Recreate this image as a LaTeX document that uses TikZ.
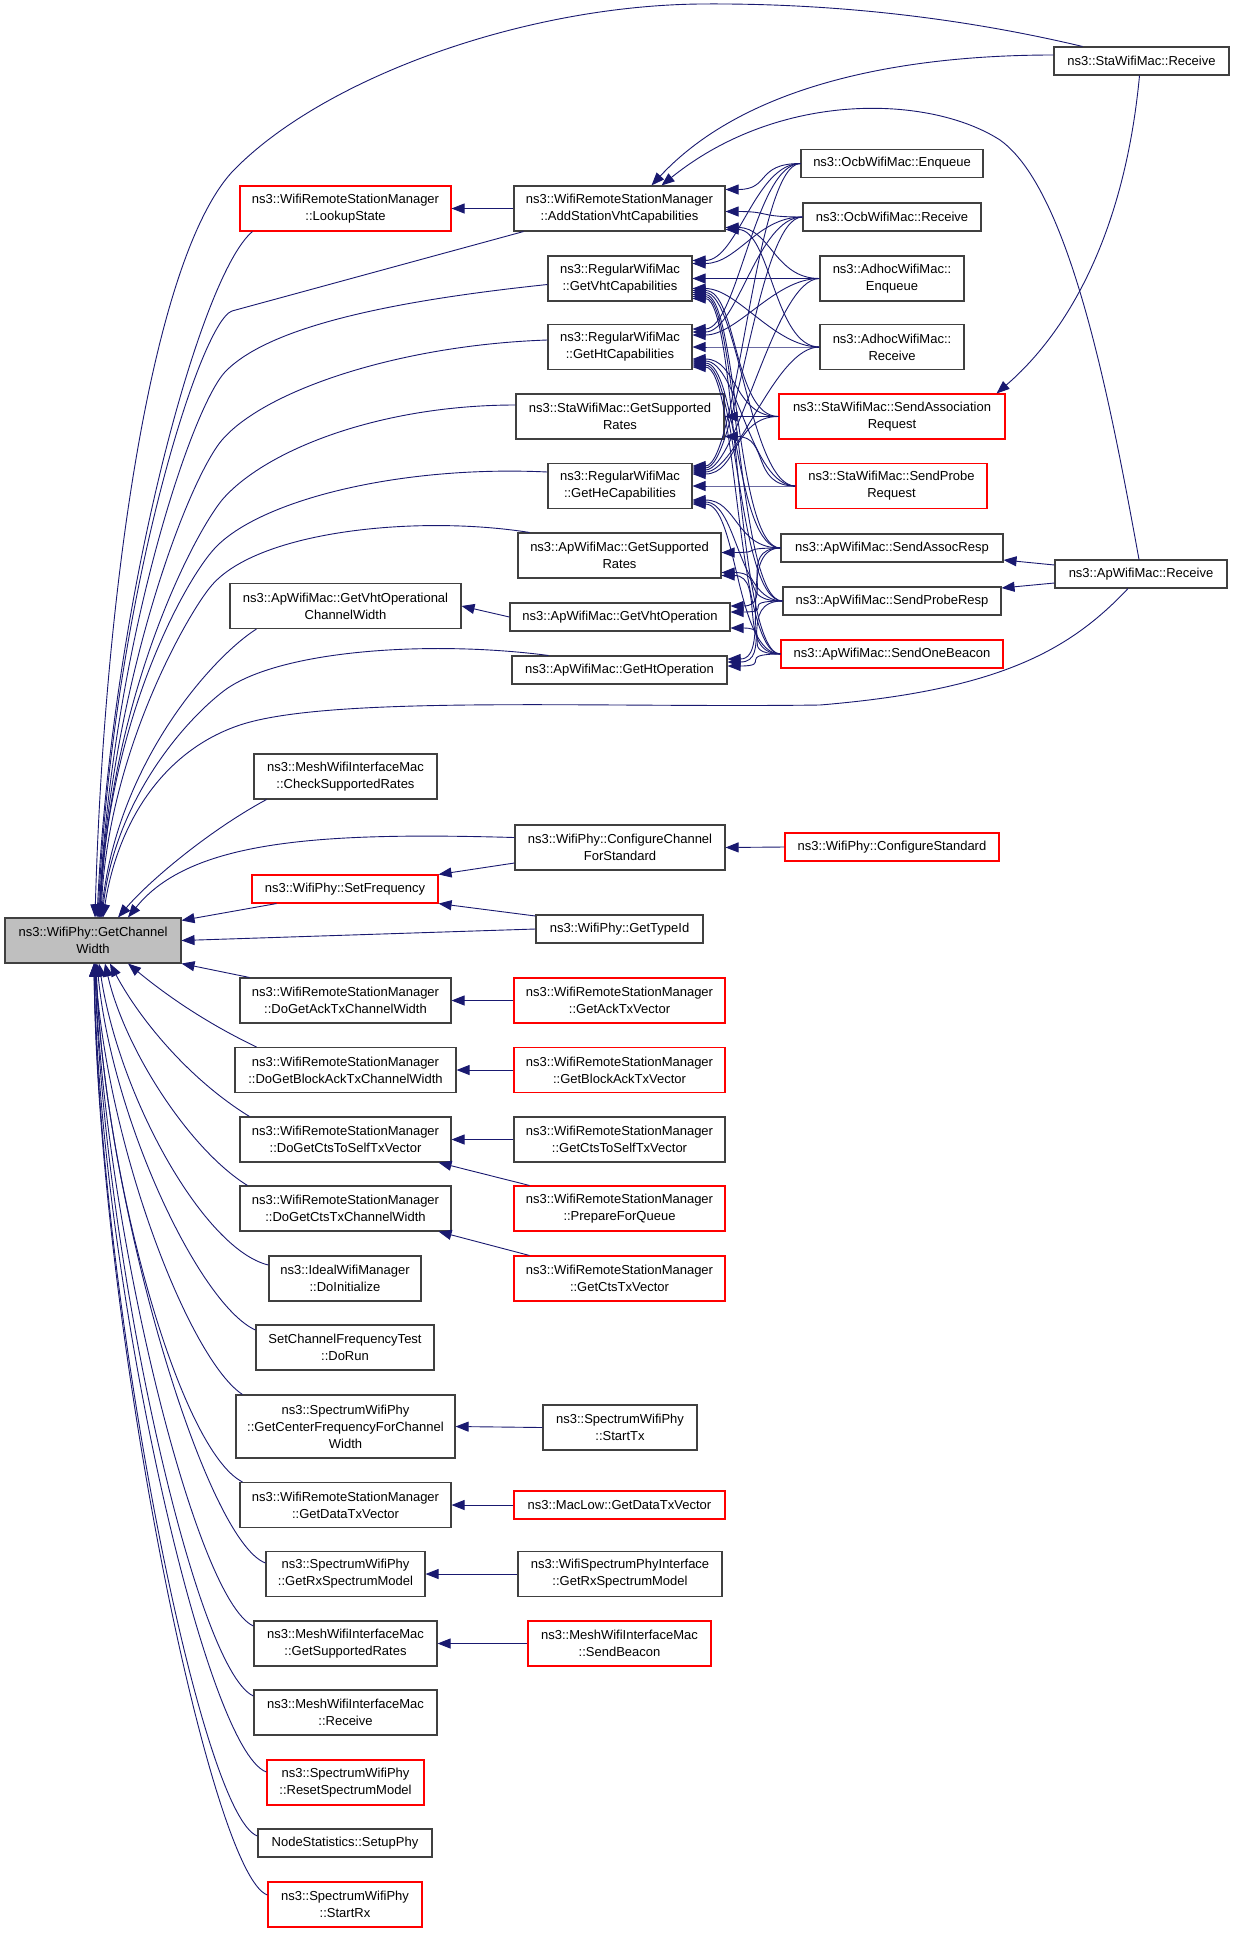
\documentclass[tikz,border=0pt]{standalone}
\usepackage{fontspec}
\setmainfont{Liberation Sans}
\usetikzlibrary{arrows.meta}
\definecolor{callcolor}{RGB}{25, 25, 112}
\definecolor{boxgray}{RGB}{191, 191, 191}
\definecolor{boxline}{RGB}{64, 64, 64}

\begin{document}
\begin{tikzpicture}[x=1pt, y=1pt,
  fn/.style={draw=boxline, line width=1.1pt, fill=white, inner sep=2pt, align=center, font=\fontsize{13}{17}\selectfont},
  fnred/.style={fn, draw=red},
  fncur/.style={fn, fill=boxgray},
  one/.style={minimum height=28pt},
  two/.style={minimum height=45pt},
  call/.style={draw=callcolor, line width=0.9pt, -{Triangle[length=13pt, width=10pt]}}]
\fill[white] (0,0) rectangle (1235,-1933);

% Called function
\node[fncur, two, minimum width=176pt] (gcw) at (93,-940.5) {ns3::WifiPhy::GetChannel\\Width};

% Callers, upper part
\node[fnred, two, minimum width=211pt] (lookup) at (345.5,-208.5) {ns3::WifiRemoteStationManager\\::LookupState};
\node[fn, two, minimum width=211pt] (addvht) at (619.5,-208.5) {ns3::WifiRemoteStationManager\\::AddStationVhtCapabilities};
\node[fn, two, minimum width=144pt] (getvht) at (620,-278.5) {ns3::RegularWifiMac\\::GetVhtCapabilities};
\node[fn, two, minimum width=144pt] (getht) at (620,-347) {ns3::RegularWifiMac\\::GetHtCapabilities};
\node[fn, two, minimum width=208pt] (starates) at (620,-416.5) {ns3::StaWifiMac::GetSupported\\Rates};
\node[fn, two, minimum width=144pt] (gethe) at (620,-486) {ns3::RegularWifiMac\\::GetHeCapabilities};
\node[fn, two, minimum width=203pt] (aprates) at (619.5,-555.5) {ns3::ApWifiMac::GetSupported\\Rates};
\node[fn, one, minimum width=220pt] (vhtop) at (620,-617) {ns3::ApWifiMac::GetVhtOperation};
\node[fn, one, minimum width=215pt] (htop) at (619.5,-670) {ns3::ApWifiMac::GetHtOperation};
\node[fn, two, minimum width=231pt] (vhtocw) at (345.5,-606) {ns3::ApWifiMac::GetVhtOperational\\ChannelWidth};
\node[fn, two, minimum width=183pt] (checkrates) at (345.5,-776.5) {ns3::MeshWifiInterfaceMac\\::CheckSupportedRates};
\node[fn, two, minimum width=210pt] (cfgchan) at (620,-847.5) {ns3::WifiPhy::ConfigureChannel\\ForStandard};
\node[fnred, one, minimum width=186pt] (setfreq) at (345,-889) {ns3::WifiPhy::SetFrequency};
\node[fn, one, minimum width=167pt] (typeid) at (619.5,-929) {ns3::WifiPhy::GetTypeId};
\node[fnred, one, minimum width=214pt] (cfgstd) at (892,-847) {ns3::WifiPhy::ConfigureStandard};

% Mac callers on the right
\node[fn, one, minimum width=175pt] (starecv) at (1141.5,-61) {ns3::StaWifiMac::Receive};
\node[fn, one, minimum width=182pt] (ocbenq) at (892,-163.5) {ns3::OcbWifiMac::Enqueue};
\node[fn, one, minimum width=178pt] (ocbrecv) at (892,-217) {ns3::OcbWifiMac::Receive};
\node[fn, two, minimum width=144pt] (adhocenq) at (892,-278.5) {ns3::AdhocWifiMac::\\Enqueue};
\node[fn, two, minimum width=144pt] (adhocrecv) at (892,-347) {ns3::AdhocWifiMac::\\Receive};
\node[fnred, two, minimum width=226pt] (assocreq) at (892,-416.5) {ns3::StaWifiMac::SendAssociation\\Request};
\node[fnred, two, minimum width=191pt] (probereq) at (891.5,-486) {ns3::StaWifiMac::SendProbe\\Request};
\node[fn, one, minimum width=222pt] (assocresp) at (892,-548) {ns3::ApWifiMac::SendAssocResp};
\node[fn, one, minimum width=218pt] (proberesp) at (892,-601) {ns3::ApWifiMac::SendProbeResp};
\node[fnred, one, minimum width=222pt] (beacon) at (892,-654) {ns3::ApWifiMac::SendOneBeacon};
\node[fn, one, minimum width=172pt] (aprecv) at (1141,-574) {ns3::ApWifiMac::Receive};

% Callers, lower part
\node[fn, two, minimum width=211pt] (doack) at (345.5,-1000.5) {ns3::WifiRemoteStationManager\\::DoGetAckTxChannelWidth};
\node[fn, two, minimum width=221pt] (doblockack) at (345.5,-1070) {ns3::WifiRemoteStationManager\\::DoGetBlockAckTxChannelWidth};
\node[fn, two, minimum width=211pt] (doctsself) at (345.5,-1139.5) {ns3::WifiRemoteStationManager\\::DoGetCtsToSelfTxVector};
\node[fn, two, minimum width=211pt] (doctstx) at (345.5,-1208.5) {ns3::WifiRemoteStationManager\\::DoGetCtsTxChannelWidth};
\node[fn, two, minimum width=152pt] (ideal) at (345,-1278.5) {ns3::IdealWifiManager\\::DoInitialize};
\node[fn, two, minimum width=178pt] (setchan) at (345,-1347.5) {SetChannelFrequencyTest\\::DoRun};
\node[fn, minimum width=219pt, minimum height=63pt] (centerfreq) at (345.5,-1426.5) {ns3::SpectrumWifiPhy\\::GetCenterFrequencyForChannel\\Width};
\node[fn, two, minimum width=211pt] (getdatatx) at (345.5,-1505) {ns3::WifiRemoteStationManager\\::GetDataTxVector};
\node[fn, two, minimum width=159pt] (getrxspec) at (345.5,-1574) {ns3::SpectrumWifiPhy\\::GetRxSpectrumModel};
\node[fn, two, minimum width=183pt] (meshrates) at (345.5,-1643.5) {ns3::MeshWifiInterfaceMac\\::GetSupportedRates};
\node[fn, two, minimum width=183pt] (meshrecv) at (345.5,-1712.5) {ns3::MeshWifiInterfaceMac\\::Receive};
\node[fnred, two, minimum width=157pt] (resetspec) at (345.5,-1782.5) {ns3::SpectrumWifiPhy\\::ResetSpectrumModel};
\node[fn, one, minimum width=174pt] (setupphy) at (345,-1843) {NodeStatistics::SetupPhy};
\node[fnred, two, minimum width=154pt] (startrx) at (345,-1904.5) {ns3::SpectrumWifiPhy\\::StartRx};

\node[fnred, two, minimum width=211pt] (getack) at (619.5,-1000.5) {ns3::WifiRemoteStationManager\\::GetAckTxVector};
\node[fnred, two, minimum width=211pt] (getblockack) at (619.5,-1070) {ns3::WifiRemoteStationManager\\::GetBlockAckTxVector};
\node[fn, two, minimum width=211pt] (getctsself) at (619.5,-1139.5) {ns3::WifiRemoteStationManager\\::GetCtsToSelfTxVector};
\node[fnred, two, minimum width=211pt] (prepare) at (619.5,-1208.5) {ns3::WifiRemoteStationManager\\::PrepareForQueue};
\node[fnred, two, minimum width=211pt] (getctstx) at (619.5,-1278.5) {ns3::WifiRemoteStationManager\\::GetCtsTxVector};
\node[fn, two, minimum width=154pt] (starttx) at (620,-1427.5) {ns3::SpectrumWifiPhy\\::StartTx};
\node[fnred, one, minimum width=211pt] (maclow) at (619.5,-1505) {ns3::MacLow::GetDataTxVector};
\node[fn, two, minimum width=204pt] (specif) at (620,-1574) {ns3::WifiSpectrumPhyInterface\\::GetRxSpectrumModel};
\node[fnred, two, minimum width=183pt] (sendbeacon) at (619.5,-1643.5) {ns3::MeshWifiInterfaceMac\\::SendBeacon};

% Calls into GetChannelWidth from above
\draw[call] ([xshift=29pt]starecv.north west) .. controls (950,-15) and (820,-3) .. (700,-4)
  .. controls (520,-6) and (320,-80) .. (232,-172) .. controls (150,-262) and (104,-600) .. ([xshift=2pt]gcw.north);
\draw[call] ([xshift=13pt]lookup.south west) .. controls (200,-275) and (112,-600) .. ([xshift=4pt]gcw.north);
\draw[call] ([xshift=10pt]addvht.south west) -- (232,-311) .. controls (200,-322) and (113,-600) .. ([xshift=5pt]gcw.north);
\draw[call] ([yshift=-6pt]getvht.west) .. controls (400,-300) and (270,-325) .. (225,-372)
  .. controls (190,-410) and (112,-650) .. ([xshift=6pt]gcw.north);
\draw[call] ([yshift=7pt]getht.west) .. controls (400,-345) and (265,-390) .. (222,-440)
  .. controls (188,-480) and (112,-680) .. ([xshift=6pt]gcw.north);
\draw[call] ([yshift=11.5pt]starates.west) .. controls (380,-405) and (265,-450) .. (222,-500)
  .. controls (190,-540) and (110,-700) .. ([xshift=7pt]gcw.north);
\draw[call] ([yshift=14pt]gethe.west) .. controls (400,-465) and (260,-500) .. (215,-548)
  .. controls (185,-580) and (108,-720) .. ([xshift=7pt]gcw.north);
\draw[call] ([xshift=12pt]aprates.north west) .. controls (420,-515) and (260,-530) .. (212,-585)
  .. controls (190,-610) and (108,-750) .. ([xshift=8pt]gcw.north);
\draw[call] ([xshift=27pt]vhtocw.south west) .. controls (215,-655) and (118,-760) .. ([xshift=8pt]gcw.north);
\draw[call] ([xshift=37pt]htop.north west) .. controls (430,-640) and (280,-650) .. (225,-690)
  .. controls (185,-720) and (115,-800) .. ([xshift=9pt]gcw.north);
\draw[call] ([xshift=-13pt]aprecv.south) .. controls (1070,-650) and (1000,-690) .. (820,-705)
  .. controls (600,-708) and (330,-695) .. (240,-725) .. controls (165,-750) and (118,-820) .. ([xshift=10pt]gcw.north);
\draw[call] ([xshift=13pt]checkrates.south west) .. controls (210,-830) and (150,-880) .. ([xshift=25pt]gcw.north);
\draw[call] ([yshift=10pt]cfgchan.west) .. controls (320,-832) and (190,-840) .. ([xshift=35pt]gcw.north);
\draw[call] ([xshift=25pt]setfreq.south west) -- ([yshift=-3pt]gcw.north east);
\draw[call] (typeid.west) -- (gcw.east);

% Calls into GetChannelWidth from below
\draw[call] ([xshift=10pt]doack.north west) -- (gcw.south east);
\draw[call] ([xshift=22pt]doblockack.north west) .. controls (200,-1020) and (160,-990) .. ([xshift=35pt]gcw.south);
\draw[call] ([xshift=10pt]doctsself.north west) .. controls (190,-1080) and (140,-1020) .. ([xshift=17pt]gcw.south);
\draw[call] ([xshift=8pt]doctstx.north west) .. controls (190,-1150) and (125,-1050) .. ([xshift=12pt]gcw.south);
\draw[call] ([yshift=13.5pt]ideal.west) .. controls (205,-1250) and (120,-1100) .. ([xshift=6pt]gcw.south);
\draw[call] ([yshift=17.5pt]setchan.west) .. controls (200,-1305) and (112,-1120) .. ([xshift=4pt]gcw.south);
\draw[call] ([xshift=7pt]centerfreq.north west) .. controls (190,-1360) and (108,-1150) .. ([xshift=2pt]gcw.south);
\draw[call] ([xshift=3pt]getdatatx.north west) .. controls (180,-1450) and (104,-1180) .. ([xshift=3pt]gcw.south);
\draw[call] ([yshift=11pt]getrxspec.west) .. controls (205,-1540) and (104,-1200) .. ([xshift=3pt]gcw.south);
\draw[call] ([yshift=17.5pt]meshrates.west) .. controls (195,-1600) and (103,-1220) .. ([xshift=2pt]gcw.south);
\draw[call] ([yshift=16.5pt]meshrecv.west) .. controls (195,-1670) and (102,-1250) .. ([xshift=2pt]gcw.south);
\draw[call] ([yshift=10.5pt]resetspec.west) .. controls (205,-1750) and (100,-1280) .. ([xshift=1pt]gcw.south);
\draw[call] ([yshift=7pt]setupphy.west) .. controls (200,-1815) and (99,-1300) .. ([xshift=1pt]gcw.south);
\draw[call] ([yshift=9.5pt]startrx.west) .. controls (210,-1875) and (98,-1320) .. ([xshift=1pt]gcw.south);

% Side calls
\draw[call] (addvht.west) -- (lookup.east);
\draw[call] (vhtop.west) -- (vhtocw.east);
\draw[call] (cfgstd.west) -- (cfgchan.east);
\draw[call] ([yshift=-15.5pt]cfgchan.west) -- (setfreq.north east);
\draw[call] ([yshift=13pt]typeid.west) -- (setfreq.south east);
\draw[call] (getack.west) -- (doack.east);
\draw[call] (getblockack.west) -- (doblockack.east);
\draw[call] (getctsself.west) -- (doctsself.east);
\draw[call] ([xshift=16pt]prepare.north west) -- ([xshift=-13pt]doctsself.south east);
\draw[call] ([xshift=16pt]getctstx.north west) -- ([xshift=-13pt]doctstx.south east);
\draw[call] (starttx.west) -- (centerfreq.east);
\draw[call] (maclow.west) -- (getdatatx.east);
\draw[call] (specif.west) -- (getrxspec.east);
\draw[call] (sendbeacon.west) -- (meshrates.east);

% Receive functions on the far right
\draw[call] ([yshift=6pt]starecv.west) .. controls (900,-55) and (745,-85) .. ([xshift=32pt]addvht.north);
\draw[call] ([xshift=-2pt]aprecv.north) .. controls (1110,-400) and (1070,-190) .. (1000,-140)
  .. controls (930,-95) and (780,-90) .. ([xshift=42pt]addvht.north);
\draw[call] ([xshift=-2pt]starecv.south) .. controls (1125,-230) and (1070,-330) .. ([xshift=-9pt]assocreq.north east);
\draw[call] ([yshift=9pt]aprecv.west) -- ([yshift=-12pt]assocresp.east);
\draw[call] ([yshift=-9pt]aprecv.west) -- ([yshift=13pt]proberesp.east);

% Mac tangle
\foreach \from/\to/\dy in {ocbenq/addvht/19, ocbrecv/addvht/-3, adhocenq/addvht/-19, adhocrecv/addvht/-21,
    ocbenq/getvht/18, ocbrecv/getvht/15, adhocenq/getvht/0, adhocrecv/getvht/-10, assocreq/getvht/-12,
    probereq/getvht/-14, assocresp/getvht/-16, proberesp/getvht/-18, beacon/getvht/-20,
    ocbenq/getht/18, ocbrecv/getht/15, adhocenq/getht/12, adhocrecv/getht/0, assocreq/getht/-12,
    probereq/getht/-14, assocresp/getht/-16, proberesp/getht/-18, beacon/getht/-20,
    assocreq/starates/0, probereq/starates/-20,
    ocbenq/gethe/20, ocbrecv/gethe/18, adhocenq/gethe/16, adhocrecv/gethe/14, assocreq/gethe/12,
    probereq/gethe/0, assocresp/gethe/-14, proberesp/gethe/-16, beacon/gethe/-18,
    assocresp/aprates/3, proberesp/aprates/-17, beacon/aprates/-20,
    assocresp/vhtop/11, proberesp/vhtop/5, beacon/vhtop/-11,
    assocresp/htop/11, proberesp/htop/8, beacon/htop/4} {
  \draw[call] (\from.west) .. controls +(-45,0) and +(45,0) .. ([yshift=\dy pt]\to.east);
}
\end{tikzpicture}
\end{document}
